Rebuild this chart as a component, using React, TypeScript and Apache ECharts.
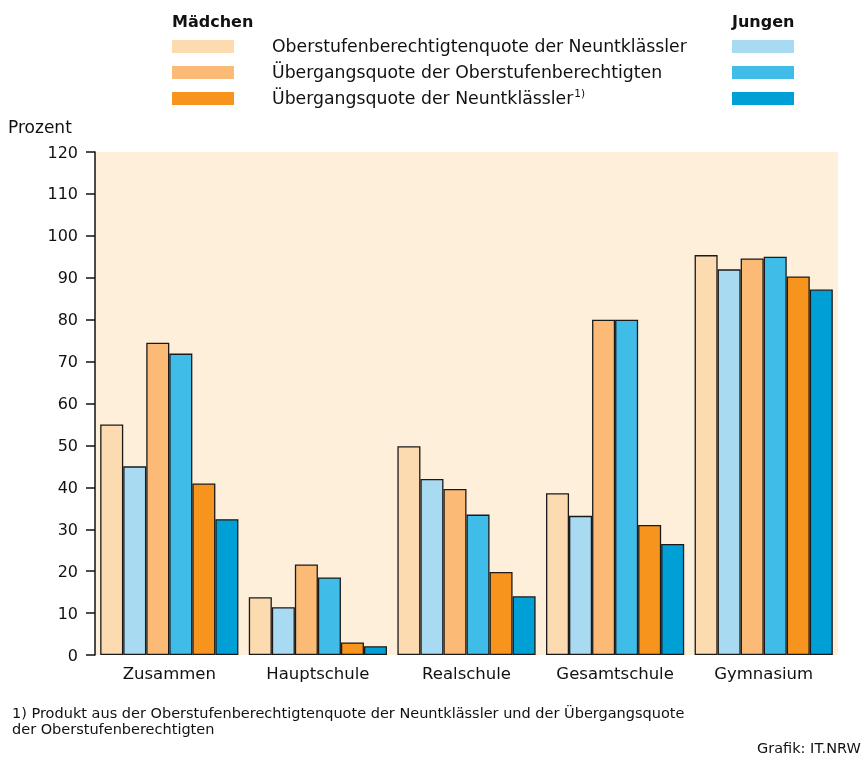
import React, { useEffect, useRef } from "react";
import * as echarts from "echarts";

const categories = ["Zusammen", "Hauptschule", "Realschule", "Gesamtschule", "Gymnasium"];
const seriesNames = [
  "Mädchen: Oberstufenberechtigtenquote der Neuntklässler",
  "Jungen: Oberstufenberechtigtenquote der Neuntklässler",
  "Mädchen: Übergangsquote der Oberstufenberechtigten",
  "Jungen: Übergangsquote der Oberstufenberechtigten",
  "Mädchen: Übergangsquote der Neuntklässler",
  "Jungen: Übergangsquote der Neuntklässler",
];
const maedchenOberstufe = [55.0, 13.8, 49.8, 38.6, 95.4];
const jungenOberstufe = [45.0, 11.4, 42.0, 33.2, 92.0];
const maedchenUebergangOS = [74.5, 21.6, 39.6, 80.0, 94.6];
const jungenUebergangOS = [71.9, 18.5, 33.5, 80.0, 95.0];
const maedchenUebergang9 = [40.9, 3.0, 19.8, 31.0, 90.3];
const jungenUebergang9 = [32.4, 2.1, 14.0, 26.5, 87.2];
const yTicks = { min: 0, max: 120, interval: 10 };

const colors = ["#fddbb0", "#a8dbf2", "#fbbb77", "#3fbde8", "#f7941d", "#00a0d6"];
const legendLabels = [
  "Oberstufenberechtigtenquote der Neuntklässler",
  "Übergangsquote der Oberstufenberechtigten",
  "Übergangsquote der Neuntklässler",
];
const footnoteLines = [
  "1) Produkt aus der Oberstufenberechtigtenquote der Neuntklässler und der Übergangsquote",
  "der Oberstufenberechtigten",
];

const FONT = "DejaVu Sans";

export default function App() {
  const ref = useRef<HTMLDivElement>(null);
  useEffect(() => {
    if (!ref.current) return;
    const chart = echarts.init(ref.current, null, { renderer: "svg" });
    const data = [
      maedchenOberstufe,
      jungenOberstufe,
      maedchenUebergangOS,
      jungenUebergangOS,
      maedchenUebergang9,
      jungenUebergang9,
    ];
    const legendRows = [46, 72, 98];
    const graphic: any[] = [
      { type: "text", x: 172, y: 21, style: { text: "Mädchen", font: `bold 16px '${FONT}'`, fill: "#111", verticalAlign: "middle" } },
      { type: "text", x: 732, y: 21, style: { text: "Jungen", font: `bold 16px '${FONT}'`, fill: "#111", verticalAlign: "middle" } },
    ];
    legendRows.forEach((y, i) => {
      graphic.push({ type: "rect", shape: { x: 172, y: y - 6, width: 62, height: 13 }, style: { fill: colors[i * 2] } });
      graphic.push({ type: "rect", shape: { x: 732, y: y - 6, width: 62, height: 13 }, style: { fill: colors[i * 2 + 1] } });
      if (i === 2) {
        graphic.push({
          type: "text",
          x: 272,
          y: y,
          style: {
            text: "{a|" + legendLabels[i] + "}{s|1)}",
            verticalAlign: "middle",
            rich: {
              a: { font: `17.3px '${FONT}'`, fill: "#111" },
              s: { font: `10.5px '${FONT}'`, fill: "#111", verticalAlign: "top", padding: [0, 0, 11, 1] },
            },
          },
        });
      } else {
        graphic.push({
          type: "text",
          x: 272,
          y: y,
          style: { text: legendLabels[i], font: `17.3px '${FONT}'`, fill: "#111", verticalAlign: "middle" },
        });
      }
    });
    graphic.push({ type: "text", x: 8, y: 127, style: { text: "Prozent", font: `17px '${FONT}'`, fill: "#111", verticalAlign: "middle" } });
    footnoteLines.forEach((t, i) => {
      graphic.push({
        type: "text",
        x: 12,
        y: 713 + i * 16,
        style: { text: t, font: `14.5px '${FONT}'`, fill: "#111", verticalAlign: "middle" },
      });
    });
    graphic.push({ type: "text", x: 757, y: 748, style: { text: "Grafik: IT.NRW", font: `14.5px '${FONT}'`, fill: "#111", verticalAlign: "middle" } });

    chart.setOption({
      animation: false,
      textStyle: { fontFamily: FONT },
      grid: {
        left: 95,
        right: 26,
        top: 152,
        bottom: 105,
        show: true,
        backgroundColor: "#fdefda",
        borderWidth: 0,
      },
      graphic,
      xAxis: {
        type: "category",
        data: categories,
        axisLine: { show: false },
        axisTick: { show: false },
        axisLabel: { color: "#111", fontSize: 16.5, margin: 10, fontFamily: FONT, interval: 0 },
      },
      yAxis: {
        type: "value",
        min: yTicks.min,
        max: yTicks.max,
        interval: yTicks.interval,
        splitLine: { show: false },
        axisLine: { show: true, lineStyle: { color: "#111", width: 1.5 } },
        axisTick: { show: true, length: 9, lineStyle: { color: "#111", width: 1.5 } },
        axisLabel: { color: "#111", fontSize: 16, margin: 17, fontFamily: FONT },
      },
      series: data.map((d, i) => ({
        name: seriesNames[i],
        type: "bar",
        data: d,
        barGap: "0%",
        barCategoryGap: "7%",
        itemStyle: { color: colors[i], borderColor: "#1a1a1a", borderWidth: 1.3 },
      })),
    });
    return () => chart.dispose();
  }, []);
  return <div ref={ref} style={{ position: "fixed", left: 0, top: 0, width: 864, height: 760 }} />;
}
